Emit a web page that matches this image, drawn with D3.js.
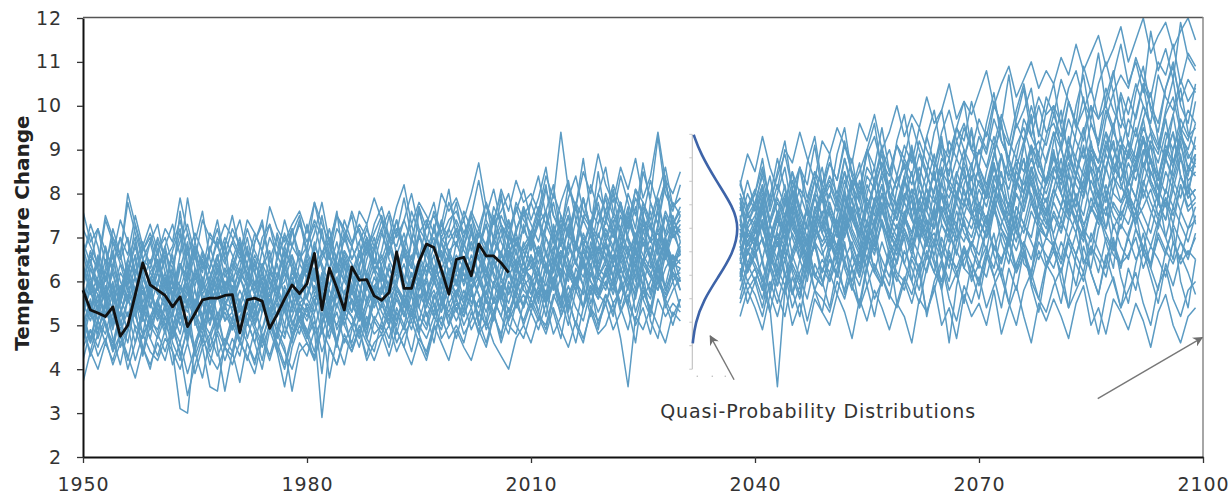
<!DOCTYPE html>
<html><head><meta charset="utf-8">
<script src="https://cdn.jsdelivr.net/npm/d3@7"></script>
<style>
html,body{margin:0;padding:0;background:#fff;}
svg{display:block;}
text{font-family:"DejaVu Sans",sans-serif;}
</style></head>
<body>
<svg id="chart" width="1231" height="495"></svg>
<script>
// ---------------- DATA ----------------
const xTickYears = [1950, 1980, 2010, 2040, 2070, 2100];
const yTickValues = [2, 3, 4, 5, 6, 7, 8, 9, 10, 11, 12];
const yLabel = "Temperature Change";
const annotationText = "Quasi-Probability Distributions";

const histStart = 1950, histEnd = 2030;   // ensemble, first segment
const projStart = 2038, projEnd = 2099;   // ensemble, second segment
const obsStart = 1950;                    // observed record

const observed = [
 5.80,5.35,5.28,5.20,5.42,4.75,5.00,5.70,6.42,5.92,
 5.80,5.68,5.42,5.65,4.97,5.27,5.58,5.62,5.62,5.68,
 5.70,4.83,5.58,5.62,5.55,4.93,5.25,5.60,5.92,5.72,
 5.95,6.64,5.35,6.30,5.85,5.35,6.33,6.03,6.04,5.67,
 5.57,5.75,6.67,5.84,5.84,6.45,6.85,6.77,6.27,5.71,
 6.50,6.55,6.13,6.85,6.58,6.58,6.42,6.20];

// ensemble members 1950-2030
const histSeries = [
[7.6,6.9,7.2,6.4,7.0,6.6,7.8,7.1,6.5,6.9, 6.2,6.8,7.3,6.6,7.9,6.9,6.3,6.7,7.2,6.5, 6.9,7.4,6.6,6.2,7.0,7.3,6.8,6.4,7.1,7.5, 6.7,7.8,7.0,6.5,7.2,6.9,7.6,7.1,6.6,7.3, 7.7,7.0,6.8,7.4,8.0,7.2,6.9,7.6,7.1,7.8, 7.3,6.8,7.5,8.3,7.4,7.0,7.9,7.2,7.6,8.1, 7.4,7.9,8.6,7.5,7.1,8.2,7.7,8.8,7.6,7.3, 8.0,7.5,8.4,7.8,7.2,8.5,7.9,9.3,8.0,7.6, 8.2],
[4.2,4.9,4.5,5.1,4.4,4.8,4.0,4.6,5.2,4.7, 4.3,4.9,4.1,4.6,3.9,4.5,5.0,4.4,4.8,4.2, 4.7,4.3,5.1,4.6,4.0,4.9,4.4,3.6,4.5,5.0, 4.6,4.2,5.0,3.8,4.7,5.2,4.5,4.9,4.3,5.1, 4.8,5.3,4.6,5.0,4.4,5.2,4.9,5.5,4.7,5.0, 5.4,4.8,5.1,5.6,4.9,5.3,4.6,5.2,5.7,5.0, 5.5,5.1,5.8,5.3,4.7,5.6,5.0,5.9,5.4,4.9, 5.7,5.2,6.0,5.4,4.6,5.8,5.3,6.1,5.5,5.0, 5.6],
[6.4,5.7,6.1,6.8,5.5,6.2,5.9,6.6,5.3,6.0, 6.7,5.8,6.3,7.1,6.0,5.4,6.5,5.9,6.2,6.9, 5.6,6.1,6.8,5.9,6.4,5.2,6.0,6.7,6.3,5.8, 6.5,6.0,7.2,6.2,5.7,6.6,6.1,5.5,6.9,6.3, 6.0,6.8,6.4,5.8,7.0,6.5,6.1,7.3,6.6,5.9, 6.9,6.4,7.2,6.0,6.7,7.5,6.3,6.8,7.1,6.5, 7.0,7.6,6.6,7.2,6.1,6.9,7.7,6.8,7.3,6.4, 7.1,6.7,7.8,7.0,6.3,7.4,6.9,7.6,6.6,7.2, 7.0],
[5.0,5.6,4.9,5.4,5.9,5.1,4.6,5.5,5.2,5.8, 5.3,4.8,5.7,5.0,5.5,4.4,5.2,5.9,4.9,5.4, 5.1,5.6,4.7,5.3,5.8,5.0,5.5,4.8,5.2,5.7, 5.4,4.9,5.6,5.2,4.5,5.8,5.3,5.7,5.0,5.5, 5.9,5.3,5.0,5.7,5.4,6.1,5.2,5.6,6.0,5.5, 5.8,5.3,6.2,5.7,5.1,6.0,5.6,6.3,5.4,5.9, 6.1,5.5,6.4,5.8,6.6,5.3,6.0,6.5,5.7,6.2, 5.9,6.6,6.1,5.5,6.8,6.2,5.8,6.4,6.9,6.0, 6.3],
[6.0,6.6,6.3,5.7,6.9,6.4,6.1,7.3,6.5,5.9, 6.3,6.8,6.0,7.6,6.4,6.1,6.7,5.8,6.5,7.0, 6.6,6.2,5.9,6.9,7.4,6.3,6.0,6.8,7.2,6.4, 6.1,6.7,7.5,6.6,6.2,7.0,6.5,6.9,7.3,6.4, 7.1,6.6,7.4,6.8,6.3,7.6,7.0,6.7,7.3,8.1, 7.0,7.4,6.7,7.2,7.8,6.9,7.5,7.1,6.6,7.7, 7.3,6.9,7.6,8.2,7.0,7.5,6.8,7.9,7.2,8.5, 7.4,7.0,7.8,7.2,8.1,7.5,6.9,7.7,8.3,7.3, 7.6],
[5.3,4.6,5.1,4.8,5.5,4.5,4.9,5.4,4.3,5.0, 4.7,5.2,4.4,3.1,3.0,4.6,5.1,4.8,5.3,4.5, 5.0,4.6,5.3,4.9,4.2,5.1,4.7,5.4,4.8,5.2, 4.9,4.4,5.3,4.7,5.5,5.0,4.6,5.2,4.8,5.6, 5.1,4.7,5.4,5.0,5.7,4.9,5.3,4.6,5.5,5.2, 5.6,5.0,5.4,4.8,5.8,5.3,5.7,5.1,5.5,6.0, 5.4,5.9,5.2,6.1,5.6,5.0,5.8,5.4,6.2,5.7, 5.5,6.0,5.3,5.9,6.3,5.6,5.2,6.1,5.7,6.4, 5.8],
[5.8,5.2,6.0,5.5,4.9,5.7,6.3,5.4,5.9,5.1, 5.6,6.1,5.3,5.8,6.4,5.0,5.5,6.0,5.2,5.7, 6.2,5.4,5.9,5.1,5.6,6.3,5.8,5.3,6.0,5.5, 5.7,6.2,5.0,5.9,6.4,5.6,5.3,6.1,5.8,6.3, 5.5,6.0,6.5,5.7,6.2,5.4,6.1,6.6,5.8,6.3, 6.0,6.5,5.8,6.3,6.8,6.1,5.7,6.6,6.2,6.9, 6.4,5.9,6.7,6.2,7.0,6.5,6.0,6.8,6.3,7.1, 6.6,6.1,6.9,6.4,5.8,7.2,6.5,6.0,6.8,6.3, 6.7],
[5.5,6.3,5.9,6.8,6.2,5.6,6.5,7.0,6.1,5.7, 6.4,5.9,6.6,5.5,6.2,6.8,6.0,5.6,6.3,5.8, 6.5,6.1,5.7,6.4,6.0,5.5,6.6,6.2,5.9,6.7, 6.0,6.5,5.8,6.3,6.9,6.1,5.7,6.4,6.8,6.2, 6.6,6.1,5.9,6.7,6.3,7.1,6.4,6.0,6.9,6.5, 6.2,6.8,7.3,6.5,6.1,6.9,6.6,7.4,6.3,6.8, 7.1,6.6,6.2,7.3,6.8,7.5,6.4,7.0,6.7,7.6, 6.9,7.4,6.5,7.1,7.7,6.8,7.3,6.6,7.5,7.0, 7.2],
[4.8,5.5,5.1,5.9,5.3,4.7,5.6,5.2,5.8,5.0, 5.4,4.9,5.7,5.3,4.6,5.5,5.1,5.8,4.5,3.5, 4.4,5.2,5.6,5.0,5.5,4.9,5.3,5.7,5.1,4.8, 5.5,5.2,3.9,5.4,5.8,5.0,5.6,5.3,4.9,5.7, 5.4,5.9,5.1,5.6,5.2,5.8,6.1,5.5,5.0,5.7, 6.0,5.5,5.9,6.3,5.6,5.2,6.1,5.7,6.4,5.8, 5.6,6.2,5.9,6.5,5.4,6.3,6.0,5.7,6.6,6.1, 6.4,5.9,6.7,6.2,5.6,6.5,6.1,6.8,5.8,6.3, 6.5],
[7.2,6.8,6.4,7.5,7.0,6.6,8.0,7.3,6.7,7.1, 6.6,7.2,6.9,7.9,7.1,6.5,7.4,7.0,6.8,7.3, 7.0,6.6,7.4,7.1,6.7,7.7,7.2,6.9,7.3,7.6, 7.1,7.8,7.3,6.9,7.5,7.2,6.8,7.6,7.3,7.9, 7.4,7.0,7.7,8.2,7.3,7.8,7.5,7.1,8.0,7.6, 7.9,7.4,8.0,8.7,7.7,7.3,8.1,7.6,8.3,7.8, 8.0,7.6,8.4,7.9,9.4,8.1,7.7,8.5,8.0,8.9, 8.2,7.8,8.6,8.1,8.8,7.9,8.4,9.4,8.3,8.0, 8.5],
[3.7,4.4,4.0,4.6,4.2,4.8,4.3,3.8,4.5,4.1, 4.6,4.2,4.9,4.4,3.4,4.1,4.7,4.3,4.0,4.5, 4.1,4.6,4.3,3.9,4.7,4.2,4.8,4.4,4.0,4.6, 4.3,4.9,2.9,4.5,4.1,4.7,4.4,4.9,4.2,4.6, 4.8,4.3,4.9,4.5,4.1,4.7,4.4,5.0,4.6,4.2, 4.9,4.5,4.2,4.8,5.1,4.6,4.3,4.0,4.7,5.0, 4.6,5.2,4.8,5.4,4.9,4.5,5.1,4.7,5.3,4.8, 5.0,5.5,4.7,3.6,5.2,4.9,5.4,5.0,4.6,5.3, 5.1],
[6.1,6.5,5.8,6.2,6.7,6.0,5.6,6.4,6.9,6.2, 5.9,6.6,6.3,5.7,6.1,6.8,6.4,6.0,6.6,5.9, 6.3,6.9,6.1,6.6,6.2,5.8,6.5,7.1,6.4,6.0, 6.7,6.2,6.6,7.2,6.4,6.0,6.8,6.3,7.0,6.5, 6.2,6.9,7.4,6.6,6.3,7.0,6.7,7.2,6.5,6.9, 7.2,6.7,6.4,7.1,6.8,7.5,6.9,6.5,7.2,7.6, 6.9,7.4,7.0,6.6,7.5,7.1,7.8,6.8,7.3,7.0, 7.6,7.1,6.7,7.5,7.0,7.8,7.3,6.9,7.6,7.2, 7.4],
[5.2,4.7,5.4,5.0,4.6,5.3,4.9,5.6,4.8,5.1, 4.9,5.5,4.7,5.2,4.8,5.4,4.5,3.6,3.5,4.6, 5.2,4.8,5.5,5.0,4.6,5.3,4.9,5.6,4.7,5.1, 5.4,4.8,5.1,5.6,4.9,5.3,5.0,5.5,4.7,5.2, 4.9,5.4,5.1,5.7,5.3,4.8,5.5,5.2,5.8,5.0, 5.5,5.2,5.8,5.0,5.6,5.3,4.7,5.9,5.4,5.7, 5.3,5.8,5.5,6.0,5.2,5.7,6.1,5.4,5.9,5.6, 6.0,5.5,5.8,6.2,5.3,5.9,5.6,6.3,5.4,5.8, 6.1],
[6.2,5.9,5.4,6.1,5.7,6.4,5.8,5.3,6.0,6.5, 5.8,5.4,6.2,5.9,5.5,6.3,5.7,6.1,5.6,6.0, 5.7,6.3,5.9,5.4,6.1,5.8,6.4,5.6,6.2,5.9, 6.3,5.8,6.1,5.5,6.4,6.0,5.7,6.2,5.9,6.5, 6.1,5.7,6.3,6.0,6.6,5.9,6.4,6.2,5.8,6.7, 6.3,6.0,6.6,6.2,6.9,6.4,6.1,6.7,6.3,6.0, 6.6,6.2,7.0,6.5,6.1,6.8,6.4,7.1,6.6,6.2, 6.9,6.5,7.2,6.7,6.3,7.0,6.6,7.3,6.8,6.4, 6.9],
[5.6,6.1,5.3,5.8,5.0,5.5,6.2,5.7,5.1,5.9, 5.2,5.7,6.0,5.4,5.9,5.3,4.9,5.6,6.1,5.5, 5.8,5.3,5.6,6.0,5.4,5.7,5.2,5.9,5.5,6.1, 5.6,5.3,5.9,5.5,6.1,5.4,5.8,5.2,6.0,5.7, 6.2,5.6,5.9,5.4,6.0,6.4,5.7,6.1,5.5,6.3, 5.9,6.4,5.8,6.1,5.5,6.5,6.0,5.7,6.3,6.1, 6.5,6.0,5.6,6.4,6.7,6.1,6.5,5.9,6.9,6.3, 6.1,6.6,6.2,6.8,6.0,6.5,7.0,6.3,5.9,6.6, 6.4],
[6.6,7.1,6.3,7.4,6.9,6.5,7.0,6.2,6.8,7.3, 6.7,7.0,6.4,6.9,7.3,6.6,6.2,7.1,6.8,6.4, 6.9,6.5,7.2,6.7,6.3,7.0,6.6,7.4,6.8,6.5, 6.8,7.3,6.6,7.0,6.5,7.4,6.9,7.2,6.7,7.1, 7.5,6.9,7.2,6.7,7.6,7.1,7.4,6.8,7.3,7.0, 7.4,7.0,7.6,7.2,6.8,7.7,7.3,7.0,7.8,7.4, 7.1,7.7,7.3,8.0,7.5,7.0,7.8,7.4,8.2,7.6, 7.3,8.0,7.6,7.2,7.9,7.5,8.3,7.7,7.1,7.8, 7.5],
[5.0,5.5,4.7,5.2,5.7,4.9,5.3,4.6,5.4,5.1, 5.5,5.0,5.3,4.8,5.6,5.1,4.6,5.4,5.0,5.3, 4.9,5.4,5.0,5.5,4.7,5.2,5.6,5.0,4.6,5.4, 5.1,5.6,4.8,5.3,5.0,5.5,5.2,4.7,5.4,5.8, 5.3,5.0,5.6,5.2,5.8,5.4,5.0,5.7,5.3,5.9, 5.6,5.2,5.7,5.4,6.0,5.5,5.9,5.3,5.8,6.1, 5.7,6.2,5.5,5.9,6.3,5.6,6.0,5.4,6.4,5.8, 6.2,5.7,6.3,5.9,6.5,5.6,6.0,6.4,5.8,6.2, 6.0],
[6.3,5.8,6.5,6.0,6.6,5.7,6.2,6.8,6.1,5.6, 6.2,6.7,5.9,6.4,6.0,6.6,5.8,6.3,6.9,6.1, 6.4,6.0,6.7,6.2,5.8,6.5,6.1,6.8,6.3,5.9, 6.6,6.1,6.5,6.9,6.2,6.7,6.4,6.0,6.8,6.3, 6.5,7.0,6.3,6.8,6.5,7.1,6.6,6.2,7.0,6.7, 6.9,6.4,7.1,6.7,7.3,6.6,7.0,7.4,6.8,7.2, 6.8,7.3,7.6,6.9,7.4,7.1,6.7,7.5,7.2,7.8, 7.0,7.5,7.1,7.7,6.8,7.4,7.2,7.9,7.0,7.3, 7.7],
[4.5,4.9,4.3,4.7,4.1,4.6,5.0,4.2,4.8,4.4, 4.2,4.7,4.4,4.0,4.6,3.9,4.5,4.8,4.3,4.7, 4.4,3.7,4.6,4.2,4.8,4.3,4.9,4.5,3.5,4.4, 4.6,4.3,4.9,4.5,4.1,4.8,4.4,5.0,4.6,4.2, 4.7,5.0,4.4,4.8,5.1,4.6,4.2,4.9,5.2,4.7, 5.0,4.6,5.3,4.9,4.5,5.2,4.8,5.4,5.0,4.7, 5.3,4.9,5.5,4.8,5.2,5.6,5.0,4.6,5.4,5.1, 5.5,4.9,5.3,5.7,5.0,5.4,4.8,5.6,5.2,5.5, 5.3],
[5.4,6.0,5.7,5.2,5.9,5.5,6.1,5.6,5.3,5.8, 6.0,5.5,5.9,5.3,5.7,6.2,5.6,5.1,5.8,5.4, 5.9,5.5,6.1,5.7,5.3,6.0,5.6,6.2,5.4,5.8, 5.9,5.5,6.2,5.8,5.4,6.1,5.7,6.3,5.6,5.9, 6.1,5.7,6.0,6.4,5.8,6.2,5.6,6.3,6.0,5.8, 6.4,6.0,6.2,6.6,5.9,6.3,6.7,6.1,6.5,6.2, 6.3,6.8,6.4,6.0,6.7,6.3,6.9,6.5,6.1,6.8, 6.5,6.1,6.9,6.6,7.0,6.4,6.8,6.2,6.9,6.5, 6.6],
[6.9,6.4,7.2,6.7,6.3,7.0,6.6,7.5,6.8,6.4, 7.0,6.5,6.8,7.4,6.6,7.1,6.7,6.3,7.0,6.6, 7.2,6.8,6.4,7.1,6.7,7.3,6.5,7.0,6.8,7.3, 6.9,7.4,7.0,6.6,7.5,7.1,6.8,7.3,7.0,6.7, 7.2,7.6,7.0,7.4,6.9,7.7,7.2,7.5,7.0,7.4, 7.6,7.1,7.5,7.0,7.8,7.3,7.6,8.0,7.2,7.5, 7.8,7.3,8.1,7.5,7.2,7.9,8.4,7.6,7.3,8.0, 7.6,8.2,7.7,7.3,8.1,7.8,7.4,8.0,8.6,7.7, 7.9],
[4.9,4.4,5.1,4.6,5.3,4.8,4.2,5.0,4.7,5.2, 4.8,4.4,5.0,4.6,5.2,4.3,4.8,4.1,4.9,4.5, 5.1,4.7,4.2,4.9,4.5,5.0,4.6,4.1,4.8,5.2, 4.7,5.1,4.4,4.9,5.3,4.6,5.0,4.5,5.2,4.8, 5.0,4.5,5.3,4.9,5.4,5.0,4.7,5.2,4.9,5.5, 5.1,5.5,4.9,5.3,5.0,5.6,5.2,4.8,5.5,5.1, 5.6,5.2,5.0,5.7,5.3,5.9,5.4,5.1,5.8,5.3, 5.7,5.3,5.9,5.5,5.1,5.8,5.4,6.0,5.6,5.2, 5.6],
[5.9,6.4,6.0,5.6,6.3,5.8,6.5,6.1,5.7,6.2, 6.5,6.0,5.7,6.4,6.1,5.9,6.6,6.2,5.8,6.3, 6.0,6.5,6.2,5.8,6.4,6.0,5.7,6.3,6.6,6.1, 6.4,6.0,6.7,6.3,5.9,6.5,6.1,6.6,6.2,5.8, 6.4,6.8,6.2,6.6,6.1,6.5,6.9,6.3,6.7,6.2, 6.6,6.3,6.9,6.5,6.2,7.0,6.6,6.3,6.9,6.7, 7.0,6.6,7.3,6.9,6.5,7.2,6.8,7.4,7.0,6.7, 7.2,6.8,7.5,7.0,6.6,7.3,6.9,7.1,6.7,7.4, 7.1],
[5.5,5.1,5.7,5.3,5.0,5.6,5.2,5.8,5.4,4.9, 5.5,5.2,4.9,5.6,5.3,5.8,5.0,5.4,5.7,5.1, 5.3,5.8,5.4,5.0,5.6,5.2,5.7,5.3,4.9,5.5, 5.2,5.7,5.4,5.0,5.8,5.3,5.6,5.1,5.5,5.9, 5.6,5.2,5.8,5.5,5.1,5.7,5.4,6.0,5.6,5.3, 5.8,5.5,6.1,5.7,5.3,5.9,5.6,6.2,5.8,5.4, 6.0,5.7,6.3,5.9,5.5,6.2,5.8,6.4,6.0,5.6, 6.2,5.8,6.5,6.0,5.7,6.4,6.1,5.8,6.3,6.6, 6.0],
[6.8,6.1,5.5,6.3,7.2,6.6,5.9,5.4,6.2,6.9, 7.3,6.4,5.7,6.0,6.8,5.3,5.9,6.7,7.4,6.5, 5.8,6.3,7.0,6.2,5.6,6.1,7.1,6.6,5.7,6.4, 7.3,6.5,5.9,6.8,7.6,6.3,5.8,6.6,7.0,6.2, 6.7,7.5,6.6,6.0,6.9,7.7,6.8,6.1,6.5,7.2, 7.8,6.9,6.3,7.1,6.6,7.4,8.0,6.8,6.4,7.3, 6.7,7.5,8.2,7.0,6.5,7.3,6.8,7.9,7.2,6.6, 7.4,8.1,6.9,7.6,7.0,6.4,7.8,7.3,8.4,7.1, 7.5],
[4.6,5.4,5.9,5.0,4.4,5.3,5.8,6.1,5.2,4.7, 5.5,6.0,5.1,4.3,4.9,5.6,5.2,4.5,5.0,5.9, 5.3,4.6,5.1,5.7,6.0,5.2,4.4,5.0,5.8,5.4, 4.8,5.5,6.1,5.3,4.6,5.2,5.9,5.5,4.9,5.6, 6.2,5.4,4.8,5.5,6.0,5.1,5.7,6.3,5.6,5.0, 5.7,6.4,5.8,5.2,6.0,6.6,5.5,5.1,5.9,6.5, 5.8,5.3,6.1,6.8,6.0,5.4,6.3,5.9,5.2,6.6, 6.9,6.1,5.5,6.2,6.7,5.9,5.3,6.4,7.0,6.2, 5.8],
[5.2,5.9,6.6,5.7,5.0,5.5,6.4,5.8,5.1,6.0, 6.5,5.6,4.8,5.4,6.2,6.7,5.5,5.0,5.7,6.3, 5.5,4.9,5.8,6.5,5.9,5.2,5.6,6.4,5.7,5.1, 6.0,6.6,5.7,5.1,5.8,6.5,5.9,5.3,6.2,6.8, 5.9,5.3,6.1,6.7,5.8,6.3,5.5,6.0,6.9,6.2, 5.6,6.3,6.9,6.1,5.7,6.6,7.2,6.3,5.8,6.5, 7.1,6.2,5.7,6.6,7.3,6.4,5.9,6.8,7.4,6.1, 6.5,7.2,6.3,5.8,6.9,7.5,6.4,6.0,6.7,7.3, 6.6],
[6.5,7.3,6.8,6.0,6.6,7.4,6.9,6.1,6.7,7.0, 6.4,5.9,6.7,7.2,6.3,6.9,7.6,6.5,6.0,6.8, 7.5,6.7,6.1,6.9,7.3,6.5,7.0,6.2,6.8,7.4, 6.6,7.1,7.8,6.9,6.3,7.0,7.5,6.6,7.2,6.8, 7.4,6.7,7.1,7.9,7.0,6.5,7.3,7.8,6.9,7.2, 6.8,7.6,7.2,6.7,7.5,8.1,7.3,6.9,7.7,7.1, 7.8,8.4,7.5,7.0,7.8,8.3,7.4,7.9,7.1,8.0, 8.6,7.6,7.2,8.0,7.5,8.7,7.8,7.3,8.2,7.7, 7.9],
[5.0,4.3,4.8,5.5,4.7,4.1,4.9,5.3,4.5,4.0, 4.8,5.4,4.6,4.2,5.0,4.4,3.8,4.7,5.2,4.5, 4.3,5.0,4.6,4.1,4.9,5.4,4.5,4.0,4.7,5.2, 4.8,4.2,5.0,5.5,4.6,4.1,4.9,5.4,4.7,4.4, 5.1,5.6,4.9,4.5,5.3,4.8,4.3,5.0,5.6,5.2, 4.7,5.4,5.9,5.1,4.6,5.3,5.8,5.0,4.8,5.5, 6.0,5.3,4.9,5.6,6.1,5.2,4.6,5.4,5.9,5.0, 5.5,6.1,5.4,4.9,5.7,6.2,5.1,4.7,5.6,6.0, 5.4],
[6.7,5.8,5.3,6.1,6.6,5.6,6.2,6.9,5.9,5.4, 6.0,6.5,5.5,6.3,6.9,5.8,5.2,6.1,6.6,5.7, 6.2,6.8,5.9,5.4,6.3,6.7,5.8,6.0,6.6,5.6, 6.1,6.9,6.3,5.6,6.0,6.7,6.2,5.7,6.5,7.0, 6.3,5.8,6.6,7.1,6.4,5.9,6.7,7.0,6.1,6.5, 7.2,6.4,6.0,6.8,7.3,6.5,6.1,7.0,6.7,6.2, 6.9,7.4,6.6,6.2,7.1,7.7,6.8,6.3,7.2,6.9, 6.4,7.3,7.8,6.9,6.5,7.1,7.6,6.7,7.0,7.5, 6.9],
[5.9,5.3,4.8,5.6,6.2,5.4,4.9,5.7,6.3,5.5, 5.1,5.8,6.3,5.4,4.7,5.5,6.0,5.3,4.9,5.6, 6.1,5.4,5.0,5.7,6.2,5.5,4.8,5.6,6.1,5.3, 5.7,6.3,5.6,5.0,5.8,6.4,5.5,5.1,5.9,5.4, 5.8,6.4,5.7,5.2,6.0,6.5,5.6,5.3,6.1,5.7, 6.2,5.6,6.3,6.8,6.0,5.5,6.4,6.9,5.8,6.1, 6.6,6.0,5.5,6.3,6.9,6.2,5.8,6.7,6.3,5.7, 6.2,6.8,6.0,6.6,7.1,6.3,5.7,6.5,7.0,6.4, 6.3],
[6.0,6.7,6.2,5.6,6.4,7.0,6.1,5.8,6.5,6.3, 6.9,6.2,5.7,6.6,7.1,6.3,5.9,6.8,6.2,5.6, 6.5,7.0,6.3,5.9,6.7,6.1,5.7,6.5,7.2,6.6, 6.2,6.8,6.4,5.9,6.6,7.1,6.5,6.9,6.0,6.7, 7.2,6.5,6.1,6.9,7.3,6.6,6.2,6.8,7.4,6.6, 6.3,7.0,7.5,6.7,6.2,6.9,7.3,6.6,7.1,7.7, 6.9,6.4,7.2,7.8,7.0,6.6,7.4,6.9,6.5,7.3, 7.9,7.1,6.7,7.4,6.9,7.7,7.2,6.8,7.5,7.0, 7.3],
[5.1,4.6,5.4,5.0,4.5,5.3,5.7,4.9,4.4,5.2, 5.6,5.0,4.7,5.3,5.8,5.1,4.6,5.4,4.9,5.5, 4.9,5.5,5.1,4.6,5.3,5.8,5.0,4.7,5.5,5.1, 4.7,5.3,5.8,5.0,4.6,5.4,5.2,4.8,5.6,5.1, 5.5,5.0,5.7,5.3,4.9,5.6,6.0,5.2,5.5,5.9, 5.3,5.8,5.4,6.0,5.6,5.1,5.9,5.5,6.1,5.4, 5.9,6.3,5.6,6.0,5.4,6.2,5.8,6.4,5.5,6.1, 5.8,6.4,6.0,5.5,6.3,5.9,6.6,6.1,5.6,6.2, 6.0],
[5.4,6.3,5.8,6.5,5.7,5.2,6.0,6.6,5.5,6.1, 5.7,6.2,5.6,6.4,5.8,5.3,6.1,5.5,6.4,5.9, 5.5,6.0,6.4,5.7,5.3,6.2,5.9,5.4,6.3,5.8, 6.4,5.7,6.1,6.6,5.9,5.4,6.2,6.7,6.0,5.6, 6.3,5.9,6.6,6.1,5.7,6.4,6.8,6.0,6.3,6.6, 5.9,6.5,6.1,6.8,6.3,5.9,6.6,6.2,7.0,6.4, 6.0,6.7,6.3,7.0,6.4,6.0,6.8,6.5,7.1,6.2, 6.8,6.4,7.1,6.6,6.1,6.9,6.5,7.2,6.7,6.3, 6.8],
[5.3,5.8,5.1,5.5,6.0,5.0,5.6,5.2,4.8,5.7, 5.2,5.7,5.0,5.5,6.0,5.2,4.8,5.5,5.9,5.1, 5.6,5.1,5.7,5.3,4.9,5.6,5.2,5.8,5.0,5.5, 5.3,5.9,5.5,5.0,5.7,5.2,5.9,5.4,5.0,5.8, 5.5,5.1,5.9,5.6,5.2,6.0,5.5,5.8,5.3,6.1, 5.7,6.2,5.5,5.9,6.3,5.6,5.2,6.0,5.7,6.3, 6.1,5.6,6.4,6.0,5.6,6.3,5.9,6.5,6.0,5.7, 6.3,5.9,6.6,6.1,5.7,6.5,6.2,5.8,6.6,6.1, 6.2],
[5.7,5.3,6.0,5.6,5.1,5.9,5.5,6.1,5.4,5.8, 6.2,5.6,5.2,5.9,5.4,6.1,5.7,5.3,6.0,5.5, 5.4,6.1,5.6,5.2,5.9,5.5,6.2,5.7,5.3,6.0, 5.6,6.2,5.8,5.4,6.0,5.7,6.3,5.9,5.5,6.1, 5.7,6.3,5.9,5.5,6.2,5.8,6.4,6.0,5.6,6.2, 6.5,5.9,6.4,6.0,6.6,6.2,5.8,6.5,6.1,6.7, 6.3,6.8,6.2,6.6,6.0,6.9,6.4,6.1,6.7,6.3, 6.9,6.4,6.8,6.2,7.0,6.6,6.3,6.9,6.5,7.1, 6.7]
];

// ensemble members 2038-2099
const projSeries = [
[7.6,8.3, 7.7,8.5,7.9,8.8,8.1,7.5,8.6,8.2,9.1,8.0, 8.7,8.3,9.2,8.4,7.9,9.0,8.6,9.5,8.5,9.1, 8.8,9.6,9.0,8.5,9.4,9.9,8.9,9.5,9.2,10.1, 9.4,9.0,10.0,9.6,10.7,9.5,9.9,10.4,9.3,10.2, 9.8,10.6,10.1,9.6,10.9,10.3,11.2,10.0,10.7,11.4, 10.5,11.0,10.3,11.7,10.8,11.3,10.6,11.9,11.1,10.8],
[6.2,5.5, 6.0,5.4,6.3,5.7,5.2,6.1,5.6,6.4,5.8,5.3, 6.2,5.7,6.5,5.9,5.4,6.3,5.6,6.0,6.6,5.5, 6.1,5.7,6.4,5.2,6.0,6.5,5.8,6.2,5.5,6.4, 5.9,6.6,6.1,5.4,6.3,5.8,6.7,6.0,5.6,6.4, 6.1,5.5,6.5,5.9,6.8,6.2,5.7,6.6,6.0,5.4, 6.3,5.8,6.7,6.1,5.5,6.4,5.9,6.6,6.2,5.7],
[7.0,7.6, 7.1,7.8,6.8,7.4,8.0,7.2,6.9,7.7,7.3,8.1, 7.5,7.0,7.9,7.4,8.3,7.6,7.2,8.0,7.7,8.4, 7.8,8.5,7.6,8.1,7.4,8.3,8.8,7.9,8.4,8.0, 8.6,8.1,7.7,8.9,8.3,8.7,8.0,9.1,8.5,8.2, 8.8,8.4,9.3,8.6,8.1,9.0,8.7,9.4,8.5,9.1, 8.8,9.5,8.6,9.2,8.9,9.7,8.7,9.3,9.0,9.6],
[6.8,6.2, 6.6,7.0,6.3,6.9,6.1,6.7,7.2,6.4,6.8,6.2, 6.9,6.5,7.3,6.7,6.2,7.0,6.6,7.4,6.8,6.4, 7.1,6.6,7.3,6.9,7.6,6.8,6.3,7.2,6.9,7.5, 7.0,7.4,6.7,7.3,7.8,7.1,6.8,7.6,7.2,7.0, 7.5,7.1,7.8,7.3,6.9,7.7,7.4,8.0,7.2,7.6, 7.3,7.9,7.5,7.1,7.8,7.4,8.1,7.6,7.2,7.7],
[7.9,7.3, 7.7,8.2,7.4,8.0,8.6,7.6,8.1,7.8,8.5,7.9, 8.3,7.8,8.8,8.1,8.5,9.0,8.2,8.7,8.4,9.1, 8.6,8.9,8.3,9.3,8.7,8.4,9.2,8.8,9.5,9.0, 8.9,9.4,9.1,9.8,9.2,8.8,9.7,9.3,10.0,9.4, 9.6,9.1,10.1,9.5,9.9,10.4,9.7,10.0,9.5,10.3, 9.8,10.5,10.0,9.6,10.7,10.2,9.9,10.6,10.1,10.4],
[5.8,6.4, 6.0,6.5,5.7,6.3,5.9,6.6,6.1,5.6,6.4,6.0, 6.5,6.2,5.8,6.6,6.1,6.8,6.3,5.9,6.7,6.2, 6.0,6.6,6.3,6.9,6.4,5.8,6.7,6.2,6.5,6.9, 6.4,6.1,6.8,6.5,7.0,6.3,6.7,6.2,6.9,6.6, 6.3,6.9,6.5,7.1,6.4,6.8,6.2,7.0,6.6,6.4, 7.0,6.5,6.8,6.3,7.1,6.7,6.4,6.9,6.6,7.0],
[7.2,6.7, 7.0,6.5,7.3,6.8,7.5,6.6,7.1,7.7,6.9,7.3, 6.8,7.4,7.0,7.6,7.2,6.9,7.8,7.3,7.0,7.7, 7.5,7.1,7.9,7.4,7.2,8.0,7.6,7.3,8.1,7.5, 7.8,7.4,8.2,7.7,7.3,8.0,7.6,8.4,7.9,7.5, 8.1,7.7,8.5,7.9,8.3,7.6,8.6,8.0,8.4,7.8, 8.2,8.7,7.9,8.5,8.1,8.8,8.3,7.9,8.6,8.4],
[6.9,7.5, 7.3,7.9,7.0,7.6,7.2,8.0,7.4,6.8,7.7,7.3, 7.8,7.2,7.6,8.2,7.5,7.1,7.9,7.6,8.3,7.7, 7.4,8.1,7.8,8.5,7.9,7.5,8.3,8.0,7.7,8.6, 8.2,7.9,8.6,8.1,8.8,8.3,7.8,8.5,8.9,8.2, 8.6,8.3,9.0,8.4,8.1,8.9,8.5,9.2,8.7,8.3, 9.0,8.6,9.3,8.8,8.4,9.1,8.7,9.4,8.9,8.6],
[6.4,6.9, 6.6,6.1,5.4,3.6,5.8,6.5,7.0,6.4,6.9,6.2, 6.7,7.2,6.5,6.9,6.3,7.1,6.8,7.3,6.6,7.0, 7.2,6.7,7.4,6.9,7.1,6.6,7.5,7.0,7.3,6.8, 7.4,7.0,7.6,7.2,6.9,7.7,7.3,7.0,7.8,7.4, 7.1,7.7,7.4,7.9,7.3,7.6,8.0,7.2,7.8,7.5, 7.9,7.4,7.7,8.1,7.5,7.9,7.3,8.2,7.6,7.8],
[8.2,8.9, 8.5,9.3,8.6,8.1,9.0,8.7,9.4,8.8,8.3,9.2, 8.9,9.5,9.1,8.7,9.6,9.2,9.8,9.0,9.4,10.0, 9.3,9.8,9.5,10.2,9.6,9.9,10.5,9.7,10.1,9.8, 10.3,10.8,10.0,10.5,10.9,10.2,10.6,11.0,10.4,10.8, 10.5,11.1,10.7,11.4,10.8,11.2,11.6,10.9,11.3,11.8, 11.0,11.5,12.0,11.2,11.6,11.9,11.3,11.7,12.0,11.5],
[5.2,5.8, 5.4,4.9,5.7,5.2,5.9,5.0,5.5,4.8,5.6,5.3, 5.0,5.7,5.3,4.7,5.6,5.1,5.8,5.4,4.9,5.5, 5.2,4.6,5.6,5.3,5.9,5.0,5.4,4.7,5.7,5.2, 5.5,5.0,5.8,4.8,5.4,5.9,5.2,4.6,5.5,5.1, 5.6,5.2,4.7,5.5,5.9,5.0,5.4,4.8,5.6,5.3, 4.9,5.5,5.1,4.5,5.3,5.7,5.0,4.6,5.2,5.4],
[7.4,8.0, 7.6,8.1,7.3,7.9,7.5,8.3,7.7,7.2,8.0,7.8, 8.2,7.7,8.5,8.0,7.6,8.4,8.1,8.7,7.9,8.3, 8.6,8.2,8.9,8.4,8.0,8.8,8.5,9.2,8.7,8.3, 9.0,8.6,9.3,8.8,8.4,9.1,9.5,8.9,9.2,8.7, 9.4,9.0,9.7,9.2,8.8,9.6,9.1,9.9,9.4,9.0, 9.7,9.3,10.0,9.5,9.1,9.8,10.2,9.4,9.9,9.6],
[6.5,6.0, 6.3,5.8,6.6,6.1,5.7,6.4,6.0,6.7,6.2,5.9, 6.5,6.1,6.8,6.3,5.9,6.6,6.2,6.9,6.4,6.0, 6.7,6.3,5.8,6.6,6.2,7.0,6.5,6.1,6.8,6.4, 6.0,6.7,6.3,7.1,6.6,6.2,6.9,6.5,7.2,6.4, 6.8,6.4,7.0,6.6,6.2,7.1,6.7,6.3,7.3,6.8, 6.5,7.2,6.8,6.4,7.0,6.6,7.3,6.9,6.5,7.1],
[7.3,6.8, 7.1,7.6,6.9,7.4,7.0,7.7,7.2,6.8,7.5,7.1, 7.6,7.2,7.9,7.4,7.0,7.8,7.3,8.0,7.5,7.2, 7.8,7.4,8.1,7.6,7.2,8.0,7.7,8.3,7.8,7.5, 8.1,7.7,8.4,7.9,7.5,8.3,8.0,8.6,8.1,7.8, 8.4,8.0,8.7,8.2,7.9,8.6,8.3,8.9,8.4,8.1, 8.7,8.3,9.0,8.5,8.1,8.8,8.4,9.1,8.6,8.9],
[6.6,7.1, 6.8,7.3,6.5,7.0,6.7,7.4,6.9,6.4,7.2,6.8, 7.1,6.7,7.5,7.0,6.6,7.3,6.9,7.6,7.1,6.8, 7.4,7.0,7.7,7.2,6.8,7.6,7.1,7.8,7.3,7.0, 7.6,7.2,7.9,7.4,7.0,7.7,7.3,8.0,7.5,7.2, 7.8,7.4,8.1,7.6,7.2,7.9,7.5,8.2,7.7,7.4, 8.0,7.6,8.3,7.8,7.4,8.1,7.7,8.4,7.9,8.1],
[8.0,7.5, 7.8,8.4,7.6,8.2,7.7,8.5,8.0,7.5,8.3,7.9, 8.4,8.0,8.8,8.2,7.8,8.6,8.3,9.0,8.5,8.1, 8.8,8.4,9.2,8.7,8.3,9.1,8.8,9.5,9.0,8.6, 9.3,8.9,9.7,9.2,8.8,9.6,9.2,10.0,9.4,9.1, 9.8,9.3,10.1,9.6,9.2,10.0,9.7,10.4,9.9,9.5, 10.2,9.7,10.5,10.0,9.6,10.4,10.9,10.1,10.6,10.3],
[6.2,6.7, 6.4,6.0,6.7,6.2,6.8,6.3,5.9,6.6,6.1,6.5, 6.2,6.8,6.4,6.0,6.7,6.3,6.9,6.5,6.1,6.8, 6.4,7.0,6.6,6.2,6.9,6.5,7.1,6.7,6.3,6.9, 6.6,7.2,6.8,6.4,7.1,6.7,7.3,6.9,6.5,7.0, 6.8,7.4,7.0,6.6,7.2,6.9,7.5,7.1,6.7,7.3, 7.0,7.6,7.2,6.8,7.4,7.0,7.7,7.3,6.9,7.5],
[7.7,7.2, 7.5,8.0,7.3,7.8,7.4,8.1,7.6,7.2,7.9,7.5, 8.0,7.6,8.3,7.8,7.4,8.2,7.8,8.5,8.0,7.7, 8.3,7.9,8.6,8.1,7.8,8.5,8.2,8.8,8.4,8.0, 8.6,8.2,8.9,8.4,8.1,8.8,8.5,9.1,8.7,8.3, 8.9,8.5,9.2,8.8,8.4,9.1,8.7,9.4,9.0,8.6, 9.2,8.8,9.5,9.1,8.7,9.4,9.0,9.7,9.3,9.5],
[5.5,6.0, 5.7,5.2,6.0,5.5,6.2,5.4,5.9,5.1,5.8,5.6, 5.3,6.0,5.6,6.3,5.4,5.9,5.2,6.1,5.7,5.4, 6.0,5.5,6.2,5.3,5.8,6.4,5.6,5.1,5.9,5.5, 6.1,5.4,5.9,6.3,5.5,5.0,5.8,6.2,5.6,5.3, 5.9,6.3,5.4,5.8,6.2,5.5,4.8,5.7,6.1,5.4, 5.8,6.2,5.5,5.0,5.9,6.3,5.6,5.2,5.8,6.0],
[6.7,7.2, 6.9,7.4,6.6,7.1,6.8,7.5,7.0,6.5,7.3,6.9, 7.2,6.8,7.6,7.1,6.7,7.4,7.0,7.7,7.2,6.9, 7.5,7.1,7.8,7.3,6.9,7.7,7.3,8.0,7.5,7.2, 7.8,7.4,8.1,7.6,7.2,8.0,7.6,8.3,7.8,7.5, 8.1,7.7,8.4,7.9,7.5,8.3,7.9,8.6,8.0,7.8, 8.3,7.9,8.7,8.2,7.8,8.5,8.1,8.8,8.3,8.5],
[8.2,7.7, 8.0,8.6,7.8,8.4,8.9,8.1,8.6,7.9,8.5,8.2, 8.7,8.3,9.1,8.5,8.1,8.9,9.3,8.6,9.0,8.4, 9.1,8.7,9.5,9.0,8.6,9.4,9.9,9.2,9.6,9.0, 9.7,9.3,10.1,9.5,9.1,9.9,10.5,9.6,10.2,9.8, 10.0,9.6,10.4,10.8,10.1,9.7,10.5,11.0,10.3,10.7, 10.4,11.1,10.6,10.2,11.0,10.7,11.4,10.5,11.2,10.9],
[6.3,5.8, 6.1,5.6,6.4,5.9,6.5,5.7,6.2,6.6,5.8,6.3, 6.0,6.5,5.7,6.3,6.7,5.9,6.4,6.0,6.6,6.1, 5.8,6.5,6.1,6.7,6.2,5.9,6.6,6.3,6.8,6.0, 6.4,6.8,6.1,6.5,6.9,6.2,6.6,6.0,6.7,6.3, 6.7,6.2,6.9,6.4,6.0,6.8,6.5,6.1,6.9,6.4, 6.6,7.0,6.3,6.8,6.5,6.1,6.9,6.4,6.7,6.5],
[7.3,6.9, 7.2,7.7,7.0,7.5,7.1,7.8,7.3,6.9,7.6,7.2, 7.7,7.3,8.0,7.5,7.1,7.9,7.5,8.2,7.7,7.4, 8.0,7.6,8.3,7.8,7.4,8.2,7.9,8.5,8.0,7.7, 8.3,7.9,8.6,8.1,7.7,8.5,8.2,8.8,8.3,8.0, 8.6,8.2,8.9,8.4,8.0,8.8,8.5,9.1,8.6,8.3, 8.9,8.5,9.2,8.7,8.3,9.0,8.6,9.3,8.8,9.1],
[6.8,6.3, 6.6,7.0,6.4,6.9,6.5,7.1,6.7,6.2,6.9,6.6, 7.0,6.6,7.3,6.8,6.4,7.1,6.7,7.4,6.9,6.6, 7.2,6.8,7.5,7.0,6.6,7.3,6.9,7.6,7.1,6.8, 7.4,7.0,7.7,7.2,6.8,7.5,7.1,7.8,7.3,7.0, 7.6,7.2,7.9,7.4,7.0,7.7,7.3,8.0,7.5,7.2, 7.8,7.4,8.1,7.6,7.2,7.9,7.5,8.2,7.7,7.9],
[7.9,7.1, 6.8,7.7,8.4,7.5,6.9,7.8,8.6,7.6,7.0,8.2, 8.9,7.8,7.3,8.1,8.7,7.6,8.3,9.1,8.0,7.4, 8.2,9.0,8.4,7.7,8.6,9.3,8.1,7.9,8.8,9.5, 8.5,7.9,8.9,9.6,8.7,8.2,9.1,9.8,8.6,9.3, 10.0,9.0,8.5,9.4,10.2,9.1,8.7,9.7,10.3,9.2, 8.9,9.8,10.5,9.4,9.0,9.9,10.6,9.5,9.2,10.1],
[6.1,6.9, 7.3,6.4,5.8,6.6,7.2,6.2,5.7,6.5,7.4,6.7, 6.0,6.8,7.5,6.6,6.1,6.9,7.3,6.3,5.9,7.0, 7.6,6.8,6.2,7.1,7.7,6.5,6.0,6.9,7.4,6.7, 6.3,7.2,7.8,6.9,6.4,7.3,6.7,6.1,7.5,7.9, 7.0,6.5,7.4,8.0,7.1,6.6,7.6,6.9,6.3,7.7, 8.1,7.2,6.7,7.5,8.0,7.0,6.5,7.6,8.2,7.3],
[7.4,6.6, 7.1,7.9,6.9,6.3,7.4,8.1,7.2,6.7,7.6,8.0, 7.0,6.5,7.5,8.3,7.4,6.8,7.7,8.2,7.1,7.6, 8.4,7.5,6.9,7.8,8.5,7.3,7.0,8.0,8.6,7.6, 7.2,8.1,8.7,7.7,7.1,8.2,8.8,7.8,7.4,8.3, 9.0,8.0,7.5,8.4,9.1,8.1,7.6,8.6,9.2,8.2, 7.8,8.7,9.3,8.3,7.9,8.9,9.4,8.4,8.0,8.8],
[8.3,7.6, 8.0,8.8,7.7,8.5,9.2,8.1,7.6,8.7,9.3,8.2, 7.9,8.9,9.5,8.4,8.0,9.0,9.6,8.5,8.1,9.2, 9.8,8.8,8.3,9.3,9.9,8.9,8.4,9.5,10.1,9.0, 8.6,9.6,10.3,9.2,8.8,9.7,10.4,9.3,8.9,9.9, 10.5,9.5,9.0,10.0,10.7,9.6,9.2,10.2,10.8,9.7, 9.3,10.3,10.9,9.9,9.4,10.4,11.0,10.0,9.6,10.5],
[5.6,6.3, 6.8,5.9,5.3,6.1,6.7,5.8,5.2,6.2,6.9,6.0, 5.4,6.3,6.9,5.9,5.5,6.4,7.0,6.1,5.6,6.5, 7.0,6.0,5.5,6.3,6.9,5.8,4.6,5.9,6.7,6.2, 5.6,6.5,7.1,6.1,5.5,6.4,6.9,5.9,5.3,6.3, 6.9,6.0,5.4,6.6,7.2,6.2,5.7,6.5,7.0,6.1, 5.5,6.4,7.1,6.3,5.8,6.7,7.2,6.0,5.4,6.5],
[6.9,7.7, 8.1,7.2,6.7,7.5,8.2,7.3,6.8,7.7,8.3,7.4, 7.0,7.9,8.5,7.5,7.0,8.0,8.6,7.6,7.2,8.1, 8.7,7.8,7.3,8.2,8.9,7.9,7.4,8.4,9.0,8.0, 7.6,8.5,9.1,8.1,7.7,8.6,9.2,8.2,7.8,8.8, 9.4,8.4,7.9,8.9,9.5,8.5,8.0,9.0,9.6,8.6, 8.2,9.1,9.7,8.7,8.3,9.2,9.8,8.8,8.4,9.3],
[7.1,6.4, 6.9,7.6,6.6,6.1,7.0,7.7,6.8,6.3,7.3,7.9, 6.9,6.4,7.2,7.9,7.0,6.5,7.4,8.0,7.1,6.7, 7.5,8.1,7.2,6.8,7.7,8.3,7.3,6.9,7.8,8.4, 7.4,7.0,7.9,8.5,7.6,7.1,8.0,8.6,7.7,7.3, 8.1,8.8,7.8,7.4,8.3,8.9,7.9,7.5,8.4,9.0, 8.0,7.6,8.5,9.1,8.1,7.7,8.6,9.2,8.2,7.9],
[7.8,7.0, 7.4,8.2,7.3,6.8,7.8,8.5,7.5,7.0,8.0,8.6, 7.6,7.1,8.1,8.8,7.8,7.3,8.3,8.9,7.9,7.4, 8.4,9.1,8.1,7.6,8.6,9.2,8.2,7.8,8.8,9.4, 8.4,7.9,8.9,9.6,8.5,8.1,9.1,9.7,8.7,8.2, 9.2,9.9,8.8,8.4,9.4,10.0,9.0,8.5,9.5,10.2, 9.1,8.7,9.7,10.3,9.2,8.8,9.8,10.4,9.4,9.0],
[6.0,6.7, 6.3,5.8,6.6,7.1,6.2,5.7,6.5,7.0,6.1,5.9, 6.7,7.2,6.3,5.8,6.6,7.1,6.2,5.9,6.8,7.3, 6.4,6.0,6.9,7.4,6.5,6.0,6.8,7.3,6.3,6.1, 7.0,7.5,6.6,6.1,6.9,7.4,6.4,6.2,7.1,7.6, 6.7,6.2,7.0,7.5,6.5,6.3,7.2,7.7,6.8,6.3, 7.1,7.6,6.6,6.4,7.3,7.8,6.9,6.5,7.2,7.4],
[7.5,6.8, 7.2,7.9,6.9,6.5,7.4,8.0,7.0,6.6,7.6,8.1, 7.1,6.8,7.7,8.3,7.3,6.9,7.8,8.4,7.4,7.0, 7.9,8.5,7.5,7.1,8.1,8.6,7.6,7.2,8.2,8.7, 7.7,7.3,8.3,8.9,7.9,7.4,8.4,9.0,8.0,7.6, 8.5,9.1,8.1,7.7,8.6,9.2,8.2,7.8,8.8,9.3, 8.3,7.9,8.9,9.4,8.4,8.0,9.0,9.5,8.5,8.7],
[6.9,6.2, 6.7,7.4,6.4,5.9,6.8,7.5,6.5,6.0,7.0,7.6, 6.6,6.1,7.1,7.7,6.8,6.3,7.2,7.8,6.9,6.4, 7.3,7.9,7.0,6.5,7.4,8.0,7.1,6.6,7.5,8.1, 7.2,6.7,7.6,8.2,7.3,6.9,7.8,8.3,7.4,7.0, 7.9,8.5,7.5,7.1,8.0,8.6,7.6,7.2,8.1,8.7, 7.7,7.3,8.2,8.8,7.8,7.4,8.3,8.9,7.9,8.1],
[6.5,7.3, 7.8,6.9,6.4,7.2,7.9,7.0,6.5,7.4,8.0,7.1, 6.7,7.5,8.1,7.2,6.8,7.7,8.2,7.3,6.9,7.8, 8.4,7.4,7.0,7.9,8.5,7.5,7.1,8.0,8.6,7.6, 7.2,8.1,8.7,7.8,7.3,8.2,8.8,7.9,7.4,8.3, 8.9,8.0,7.6,8.5,9.0,8.1,7.7,8.6,9.2,8.2, 7.8,8.7,9.3,8.3,7.9,8.8,9.4,8.4,8.0,8.9]
];

// quasi-probability distribution
const distValues  = [9.34, 8.92, 8.27, 7.70, 7.21, 6.64, 6.11, 5.58, 5.05, 4.59];
const distDensity = [0.03, 0.17, 0.52, 0.87, 1.00, 0.87, 0.56, 0.24, 0.06, 0.01];

// ---------------- CHART ----------------
const svg = d3.select("#chart");
const pL = 83, pR = 1203, pT = 18, pB = 457;
const x = d3.scaleLinear().domain([1950, 2100]).range([pL, pR]);
const y = d3.scaleLinear().domain([2, 12]).range([pB, pT]);

const histYears = d3.range(histStart, histEnd + 1);
const projYears = d3.range(projStart, projEnd + 1);
const obsYears = d3.range(obsStart, obsStart + observed.length);

const defs = svg.append("defs");
defs.append("clipPath").attr("id", "plotclip")
  .append("rect").attr("x", pL).attr("y", pT).attr("width", pR - pL).attr("height", pB - pT);
defs.append("marker").attr("id", "arrowhead")
  .attr("viewBox", "0 0 10 10").attr("refX", 9).attr("refY", 5)
  .attr("markerWidth", 10).attr("markerHeight", 10).attr("markerUnits", "userSpaceOnUse")
  .attr("orient", "auto")
  .append("path").attr("d", "M0,0 L10,5 L0,10 L3,5 Z").attr("fill", "#6e6e6e");

const lineFor = yrs => d3.line()
  .defined((d, i) => i < yrs.length)
  .x((d, i) => x(yrs[i])).y(d => y(d));

const gLines = svg.append("g").attr("clip-path", "url(#plotclip)");
const blue = "#5b9bc3";
gLines.selectAll("path.hist").data(histSeries).join("path")
  .attr("class", "hist").attr("d", lineFor(histYears))
  .attr("fill", "none").attr("stroke", blue).attr("stroke-width", 1.5).attr("stroke-linejoin", "round");
gLines.selectAll("path.proj").data(projSeries).join("path")
  .attr("class", "proj").attr("d", lineFor(projYears))
  .attr("fill", "none").attr("stroke", blue).attr("stroke-width", 1.5).attr("stroke-linejoin", "round");

// distribution inset
const distYear = 2031.6;
const dx0 = x(distYear);
const dw = d3.scaleLinear().domain([0, 1]).range([0, 47]);
const distTop = 9.35, distBottom = 4.0;
svg.append("line").attr("x1", dx0).attr("x2", dx0).attr("y1", y(distTop)).attr("y2", y(distBottom))
  .attr("stroke", "#b8b8b8").attr("stroke-width", 1);
const nT = 11;
for (let k = 0; k < nT; k++) {
  const v = distTop - k * (distTop - distBottom) / (nT - 1);
  svg.append("line").attr("x1", dx0 - 3).attr("x2", dx0).attr("y1", y(v)).attr("y2", y(v))
    .attr("stroke", "#c8c8c8").attr("stroke-width", 1);
}
[5, 20, 33].forEach(o => svg.append("circle").attr("cx", dx0 + o).attr("cy", y(distBottom) + 7).attr("r", 0.8).attr("fill", "#bbb"));
svg.append("path").datum(distValues.map((v, i) => [v, distDensity[i]]))
  .attr("d", d3.line().curve(d3.curveBasis).x(d => dx0 + dw(d[1])).y(d => y(d[0])))
  .attr("fill", "none").attr("stroke", "#3d63a8").attr("stroke-width", 2.6);

// observed
svg.append("path").datum(observed)
  .attr("d", lineFor(obsYears))
  .attr("fill", "none").attr("stroke", "#111").attr("stroke-width", 2.8).attr("stroke-linejoin", "round");

// frame
svg.append("line").attr("x1", pL).attr("x2", pR).attr("y1", pT - 0.5).attr("y2", pT - 0.5)
  .attr("stroke", "#555").attr("stroke-width", 1.5);
svg.append("line").attr("x1", pR).attr("x2", pR).attr("y1", pT - 1).attr("y2", pB)
  .attr("stroke", "#888").attr("stroke-width", 1.5);

// axes
const yAxis = d3.axisLeft(y).tickValues(yTickValues).tickFormat(d3.format("d"))
  .tickSize(6).tickSizeOuter(0).tickPadding(15);
const gy = svg.append("g").attr("transform", `translate(${pL},0)`).call(yAxis);
const xAxis = d3.axisBottom(x).tickValues(xTickYears).tickFormat(d3.format("d"))
  .tickSize(6).tickSizeOuter(0).tickPadding(15);
const gx = svg.append("g").attr("transform", `translate(0,${pB})`).call(xAxis);
[gx, gy].forEach(g => {
  g.select(".domain").attr("stroke", "#111").attr("stroke-width", 2);
  g.selectAll(".tick line").attr("stroke", "#333").attr("stroke-width", 1.3);
  g.selectAll(".tick text").attr("fill", "#333").style("font-size", "19px")
    .style("font-family", "'DejaVu Sans', sans-serif").style("letter-spacing", "0.9px");
});

svg.append("text").attr("transform", `translate(29,233) rotate(-90)`)
  .attr("text-anchor", "middle").attr("fill", "#222")
  .style("font-size", "20px").style("font-weight", "bold").text(yLabel);

// annotation
svg.append("text").attr("x", x(2027.3)).attr("y", y(2.88)).attr("fill", "#333")
  .style("font-size", "19px").style("letter-spacing", "0.9px").text(annotationText);
svg.append("line").attr("x1", x(2037.2)).attr("y1", y(3.76)).attr("x2", x(2034.0)).attr("y2", y(4.76))
  .attr("stroke", "#777").attr("stroke-width", 1.4).attr("marker-end", "url(#arrowhead)");
svg.append("line").attr("x1", x(2085.9)).attr("y1", y(3.33)).attr("x2", x(2099.9)).attr("y2", y(4.72))
  .attr("stroke", "#777").attr("stroke-width", 1.4).attr("marker-end", "url(#arrowhead)");
</script>
</body></html>
